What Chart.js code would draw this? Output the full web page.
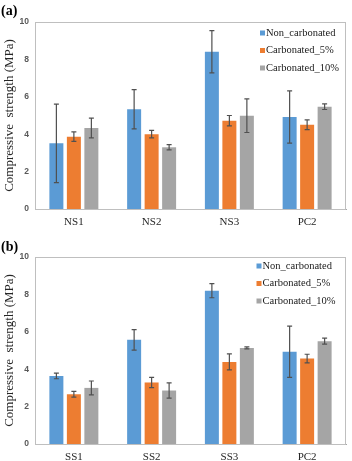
<!DOCTYPE html>
<html>
<head>
<meta charset="utf-8">
<script src="https://cdn.jsdelivr.net/npm/chart.js@4/dist/chart.umd.min.js"></script>
<style>
    html, body { margin: 0; padding: 0; background: #ffffff; }
    .panel { position: absolute; left: 0; width: 352px; }
    #panel__a { top: 0; height: 228px; }
    #panel__b { top: 228px; height: 233px; }
</style>
</head>
<body>
<div class="panel" id="panel__a"><canvas id="chart__a" width="352" height="228"></canvas></div>
<div class="panel" id="panel__b"><canvas id="chart__b" width="352" height="233"></canvas></div>
<script>
// chart data
const seriesNames = ['Non_carbonated', 'Carbonated_5%', 'Carbonated_10%']
const seriesColors = ['#5B9BD5', '#ED7D31', '#A5A5A5']
const yTicks = [0, 2, 4, 6, 8, 10]

// panel (a)
const categoriesA = ['NS1', 'NS2', 'NS3', 'PC2']
const nonCarbonatedA = [3.51, 5.33, 8.41, 4.92]
const carbonated5A = [3.87, 4.00, 4.72, 4.51]
const carbonated10A = [4.33, 3.30, 4.99, 5.47]
const nonCarbonatedErrA = [2.10, 1.05, 1.13, 1.40]
const carbonated5ErrA = [0.25, 0.20, 0.28, 0.26]
const carbonated10ErrA = [0.53, 0.14, 0.90, 0.15]

// panel (b)
const categoriesB = ['SS1', 'SS2', 'SS3', 'PC2']
const nonCarbonatedB = [3.64, 5.57, 8.20, 4.93]
const carbonated5B = [2.66, 3.29, 4.39, 4.57]
const carbonated10B = [3.00, 2.86, 5.14, 5.50]
const nonCarbonatedErrB = [0.15, 0.55, 0.38, 1.37]
const carbonated5ErrB = [0.15, 0.27, 0.43, 0.23]
const carbonated10ErrB = [0.37, 0.41, 0.05, 0.16]

const serif = "'Liberation Serif', 'Times New Roman', serif"
const sans = "'Liberation Sans', Arial, sans-serif"

// draws the error whiskers on top of each bar
const errorBarPlugin = {
    id: 'errorBars',
    afterDatasetsDraw(chart) {
        const ctx = chart.ctx
        const yScale = chart.scales.y
        ctx.save()
        ctx.strokeStyle = '#505050'
        ctx.lineWidth = 1.2
        chart.data.datasets.forEach((ds, i) => {
            const meta = chart.getDatasetMeta(i)
            meta.data.forEach((bar, j) => {
                const v = ds.data[j]
                const e = ds.errors[j]
                const top = yScale.getPixelForValue(v + e)
                const bottom = yScale.getPixelForValue(v - e)
                ctx.beginPath()
                ctx.moveTo(bar.x, top)
                ctx.lineTo(bar.x, bottom)
                ctx.moveTo(bar.x - 2.5, top)
                ctx.lineTo(bar.x + 2.5, top)
                ctx.moveTo(bar.x - 2.5, bottom)
                ctx.lineTo(bar.x + 2.5, bottom)
                ctx.stroke()
            })
        })
        ctx.restore()
    }
}

// box around the plot area, panel letter and the in-plot legend
const framePlugin = {
    id: 'frame',
    afterDraw(chart, args, opts) {
        const ctx = chart.ctx
        const area = chart.chartArea
        ctx.save()
        ctx.strokeStyle = '#bfbfbf'
        ctx.lineWidth = 1
        ctx.strokeRect(area.left + 0.5, area.top + 0.5, area.right - area.left - 1, area.bottom - area.top)

        ctx.fillStyle = '#000000'
        ctx.font = `bold 14px ${serif}`
        ctx.textBaseline = 'alphabetic'
        ctx.textAlign = 'left'
        ctx.fillText(opts.letter, 1, opts.letterY)

        ctx.font = `10.5px ${serif}`
        ctx.textBaseline = 'middle'
        chart.data.datasets.forEach((ds, i) => {
            const y = opts.legendY + i * opts.legendGap
            ctx.fillStyle = ds.backgroundColor
            ctx.fillRect(opts.legendX, y - 2.5, 5, 5)
            ctx.fillStyle = '#1a1a1a'
            ctx.fillText(ds.label, opts.legendX + 6, y)
        })
        ctx.restore()
    }
}

function buildDatasets(values, errors) {
    return seriesNames.map((name, i) => ({
        label: name,
        data: values[i],
        errors: errors[i],
        backgroundColor: seriesColors[i],
        categoryPercentage: 0.675,
        barPercentage: 0.8
    }))
}

function makeChart(canvasId, labels, values, errors, layout) {
    return new Chart(document.getElementById(canvasId), {
        type: 'bar',
        data: {
            labels: labels,
            datasets: buildDatasets(values, errors)
        },
        plugins: [errorBarPlugin, framePlugin],
        options: {
            responsive: false,
            animation: false,
            layout: {
                padding: { top: layout.top, right: 6, left: 0, bottom: 0 }
            },
            plugins: {
                legend: { display: false },
                tooltip: { enabled: false },
                frame: layout.frame
            },
            scales: {
                x: {
                    grid: { display: false, drawTicks: false },
                    border: { display: true, color: '#a6a6a6' },
                    ticks: {
                        padding: 7,
                        color: '#262626',
                        font: { family: serif, size: 11 }
                    },
                    afterFit: scale => { scale.height = layout.xHeight }
                },
                y: {
                    min: 0,
                    max: 10,
                    afterBuildTicks: scale => { scale.ticks = yTicks.map(v => ({ value: v })) },
                    grid: { display: false, drawTicks: false },
                    border: { display: true, color: '#bfbfbf' },
                    ticks: {
                        padding: 6,
                        color: '#595959',
                        font: { family: sans, size: 8.5, weight: 'bold' }
                    },
                    title: {
                        display: true,
                        text: 'Compressive  strength (MPa)',
                        color: '#262626',
                        padding: { top: 2, bottom: 0 },
                        font: { family: serif, size: 13 }
                    },
                    afterFit: scale => { scale.width = 35 }
                }
            }
        }
    })
}

makeChart('chart__a', categoriesA,
    [nonCarbonatedA, carbonated5A, carbonated10A],
    [nonCarbonatedErrA, carbonated5ErrA, carbonated10ErrA],
    { top: 22, xHeight: 19, frame: { letter: '(a)', letterY: 15, legendX: 260, legendY: 33, legendGap: 17.5 } })

makeChart('chart__b', categoriesB,
    [nonCarbonatedB, carbonated5B, carbonated10B],
    [nonCarbonatedErrB, carbonated5ErrB, carbonated10ErrB],
    { top: 29, xHeight: 17, frame: { letter: '(b)', letterY: 23, legendX: 256.5, legendY: 38, legendGap: 17.5 } })
</script>
</body>
</html>
